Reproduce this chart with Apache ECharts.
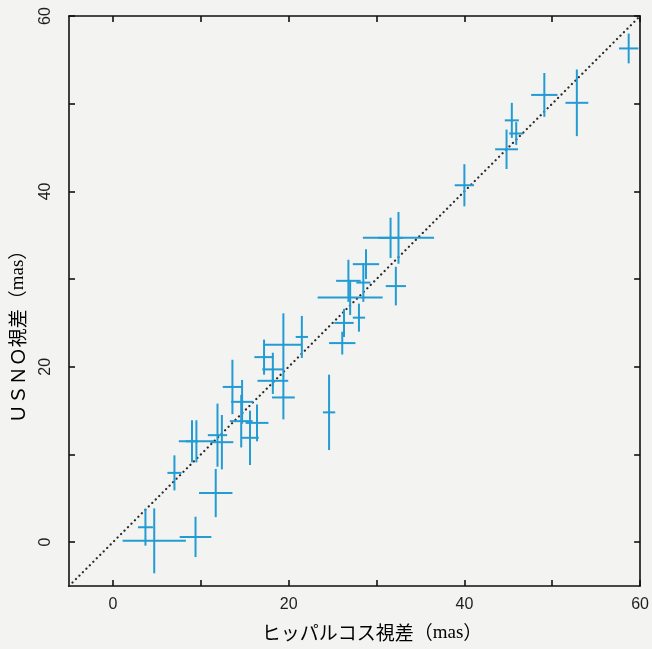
<!DOCTYPE html>
<html>
<head>
<meta charset="utf-8">
<script src="https://cdn.jsdelivr.net/npm/echarts@6/dist/echarts.min.js"></script>
<style>
html,body{margin:0;padding:0;background:#f3f3f2;}
#main{width:652px;height:649px;}
</style>
</head>
<body>
<div id="main"></div>
<script>
// Hipparcos parallax (x) vs USNO parallax (y), with errors (mas)
const xVals = [3.7, 4.7, 9.4, 7.0, 11.7, 9.0, 9.5, 11.9, 12.4,
  13.6, 14.7, 14.6, 15.6, 16.4, 17.2, 18.2, 18.2, 19.4, 19.4, 21.5,
  26.1, 26.3, 28.0, 27.0, 26.8, 28.5, 28.8, 32.2, 31.6, 32.5, 24.6,
  40.0, 44.8, 45.4, 45.9, 49.1, 52.8, 58.7];
const yVals = [1.7, 0.15, 0.6, 7.9, 5.6, 11.5, 11.5, 12.2, 11.4,
  17.7, 16.0, 13.8, 11.9, 13.6, 21.1, 19.7, 18.4, 16.5, 22.5, 23.4,
  22.7, 25.0, 25.6, 27.9, 29.8, 29.6, 31.7, 29.2, 34.7, 34.7, 14.8,
  40.7, 44.8, 48.1, 46.6, 51.0, 50.1, 56.3];
const xErr = [0.85, 3.6, 1.8, 0.8, 1.9, 0.7, 2.0, 1.1, 1.3,
  1.1, 1.25, 1.3, 1.0, 1.3, 1.1, 1.2, 1.75, 1.3, 2.1, 0.7,
  1.5, 1.1, 0.7, 3.7, 1.4, 0.8, 1.5, 1.15, 1.4, 4.05, 0.7,
  1.1, 1.3, 0.8, 0.8, 1.5, 1.3, 1.1];
const yErr = [2.1, 3.7, 2.3, 2.0, 2.75, 2.4, 2.4, 3.6, 3.1,
  3.1, 2.5, 3.0, 3.1, 2.1, 2.0, 1.9, 1.5, 2.5, 3.6, 2.4,
  1.3, 1.6, 1.6, 2.0, 2.4, 2.2, 1.7, 2.2, 2.3, 2.95, 4.3,
  2.4, 2.25, 2.0, 1.3, 2.5, 3.8, 1.7];
const diagX = [-5, 60];
const diagY = [-5, 60];
const tickValues = [0, 10, 20, 30, 40, 50, 60];
const labelValues = [0, 20, 40, 60];
const xTitle = '{a|ヒッパルコス視差（}{b|mas}{a|）}';
const yTitle = '{a|ＵＳＮＯ視差（}{b|mas}{a|）}';

const barColor = '#239bd3';
const pts = xVals.map((v, i) => [v, yVals[i], xErr[i], yErr[i]]);

function renderItem(params, api) {
  const x = api.value(0), y = api.value(1), ex = api.value(2), ey = api.value(3);
  const l = api.coord([x - ex, y]), r = api.coord([x + ex, y]);
  const b = api.coord([x, y - ey]), t = api.coord([x, y + ey]);
  const st = {stroke: barColor, lineWidth: 2};
  return {type: 'group', children: [
    {type: 'line', shape: {x1: l[0], y1: l[1], x2: r[0], y2: r[1]}, style: st},
    {type: 'line', shape: {x1: b[0], y1: b[1], x2: t[0], y2: t[1]}, style: st}
  ]};
}

const font = '"Liberation Sans", Arial, sans-serif';
function axisCommon(showLabel, rotate, margin) {
  return {
    type: 'value', min: -5, max: 60,
    axisLine: {show: true, onZero: false, lineStyle: {color: '#111', width: 1.6}},
    axisTick: {show: true, inside: true, length: 6, customValues: tickValues, lineStyle: {color: '#111', width: 1.6}},
    axisLabel: {show: showLabel, customValues: labelValues, rotate: rotate || 0, color: '#1e1e1e', fontSize: 16, fontFamily: font, margin: margin || 10},
    splitLine: {show: false}
  };
}
const richStyles = {
  a: {fontFamily: '"Noto Sans CJK JP", sans-serif', fontSize: 19, color: '#1e1e1e'},
  b: {fontFamily: '"Liberation Serif", "Times New Roman", serif', fontSize: 19, color: '#1e1e1e'}
};

const chart = echarts.init(document.getElementById('main'), null, {renderer: 'canvas'});
chart.setOption({
  backgroundColor: '#f3f3f2',
  animation: false,
  grid: {left: 69, right: 9, top: 16, bottom: 63},
  xAxis: [
    Object.assign(axisCommon(true, 0, 11), {position: 'bottom'}),
    Object.assign(axisCommon(false, 0), {position: 'top'})
  ],
  yAxis: [
    Object.assign(axisCommon(true, 90, 15), {position: 'left'}),
    Object.assign(axisCommon(false, 0), {position: 'right'})
  ],
  graphic: [
    {type: 'text', x: 372, y: 633, style: {text: xTitle, rich: richStyles, align: 'center', verticalAlign: 'middle'}},
    {type: 'text', x: 18, y: 332, rotation: Math.PI / 2, style: {text: yTitle, rich: richStyles, align: 'center', verticalAlign: 'middle'}}
  ],
  series: [
    {
      type: 'line', data: diagX.map((v, i) => [v, diagY[i]]), symbol: 'none',
      lineStyle: {color: '#2a2a2a', width: 2.2, type: [0.1, 4.8], cap: 'round'}, z: 1
    },
    {
      type: 'custom', renderItem: renderItem, data: pts, z: 2,
      encode: {x: 0, y: 1}
    }
  ]
});
</script>
</body>
</html>
